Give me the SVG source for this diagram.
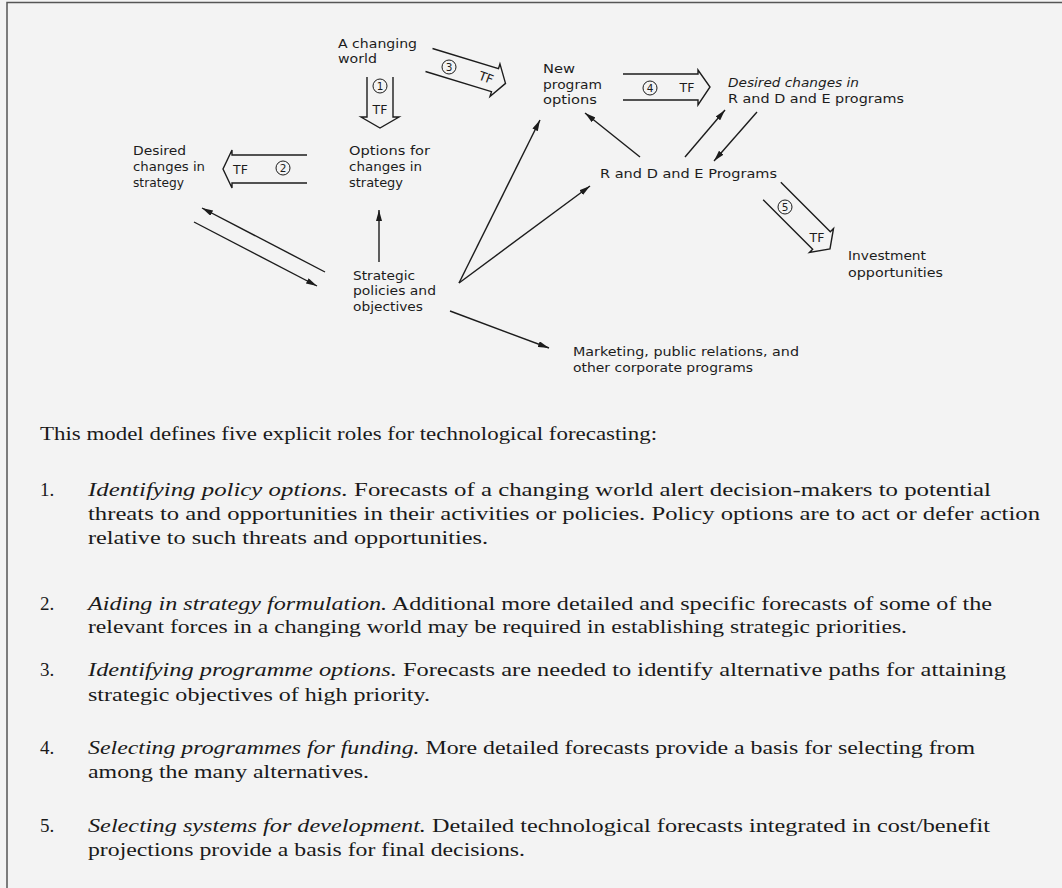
<svg xmlns="http://www.w3.org/2000/svg" width="1062" height="888" viewBox="0 0 1062 888">
<defs>
<style>
.lbl{font-family:"DejaVu Sans","Liberation Sans",sans-serif;font-size:11.5px;fill:#1c1c1c}
.it{font-style:italic}
.tf{font-family:"DejaVu Sans","Liberation Sans",sans-serif;font-size:12.5px;fill:#1c1c1c}
.num{font-family:"DejaVu Sans","Liberation Sans",sans-serif;font-size:10.5px;fill:#1c1c1c;text-anchor:middle}
.circ{fill:none;stroke:#1c1c1c;stroke-width:1}
.hollow{fill:none;stroke:#1c1c1c;stroke-width:1.4;stroke-linejoin:miter}
.thin{fill:none;stroke:#1c1c1c;stroke-width:1.4;marker-end:url(#ah)}
.body{font-family:"Liberation Serif","Times New Roman",serif;font-size:19px;fill:#1a1a1a}
.frame{fill:none;stroke:#555;stroke-width:1.5}
</style>
<marker id="ah" markerWidth="11" markerHeight="6" refX="11" refY="3" orient="auto" markerUnits="userSpaceOnUse">
<path d="M0,0 L11,3 L0,6 z" fill="#1c1c1c"/>
</marker>
</defs>
<rect x="0" y="0" width="1062" height="888" fill="#f3f3f3"/>
<path class="frame" d="M7,888 L7,2.5 L1062,2.5"/>

<g id="connectors">
<line class="thin" x1="379" y1="262" x2="379" y2="210"/>
<line class="thin" x1="325" y1="272" x2="202" y2="208"/>
<line class="thin" x1="194" y1="222" x2="317" y2="286"/>
<line class="thin" x1="459" y1="283" x2="540" y2="120"/>
<line class="thin" x1="459" y1="283" x2="590" y2="186"/>
<line class="thin" x1="450" y1="311" x2="549" y2="348"/>
<line class="thin" x1="640" y1="157" x2="585" y2="113"/>
<line class="thin" x1="685" y1="157" x2="725" y2="110"/>
<line class="thin" x1="757" y1="112" x2="714" y2="161"/>
</g>

<g id="tf1">
<path class="hollow" transform="translate(380,77) rotate(90)" d="M0,-13 L40,-13 L40,-19 L51,0 L40,19 L40,13 L0,13"/>
<circle class="circ" cx="380" cy="86" r="7"/>
<text class="num" x="380" y="90">1</text>
<text class="tf" x="380" y="114" text-anchor="middle">TF</text>
</g>
<g id="tf2">
<path class="hollow" transform="translate(307,169) rotate(180)" d="M0,-14 L75,-14 L75,-19 L84,0 L75,19 L75,14 L0,14"/>
<circle class="circ" cx="283" cy="168" r="7"/>
<text class="num" x="283" y="172">2</text>
<text class="tf" x="233" y="174">TF</text>
</g>
<g id="tf3">
<path class="hollow" transform="translate(429,60) rotate(17)" d="M0,-12 L69,-12 L69,-17 L80,0 L69,17 L69,12 L0,12"/>
<circle class="circ" cx="449" cy="67" r="7"/>
<text class="num" x="449" y="71">3</text>
<text class="tf" transform="translate(486,78) rotate(20)" x="0" y="4" text-anchor="middle">TF</text>
</g>
<g id="tf4">
<path class="hollow" transform="translate(623,87) rotate(0)" d="M0,-13 L75,-13 L75,-17 L87,0 L75,18 L75,13 L0,13"/>
<circle class="circ" cx="650" cy="88" r="7"/>
<text class="num" x="650" y="92">4</text>
<text class="tf" x="687" y="92" text-anchor="middle">TF</text>
</g>
<g id="tf5">
<path class="hollow" transform="translate(772,191) rotate(45)" d="M0,-12.5 L70,-12.5 L70,-17 L82,0 L70,17 L70,12.5 L0,12.5"/>
<circle class="circ" cx="785" cy="207" r="7"/>
<text class="num" x="785" y="211">5</text>
<text class="tf" x="817" y="242" text-anchor="middle">TF</text>
</g>

<g id="changing-world">
<text class="lbl" x="338" y="48" textLength="79" lengthAdjust="spacingAndGlyphs">A changing</text>
<text class="lbl" x="338" y="63" textLength="39" lengthAdjust="spacingAndGlyphs">world</text>
</g>
<g id="desired-strategy">
<text class="lbl" x="133" y="155" textLength="53" lengthAdjust="spacingAndGlyphs">Desired</text>
<text class="lbl" x="133" y="171" textLength="72" lengthAdjust="spacingAndGlyphs">changes in</text>
<text class="lbl" x="133" y="187" textLength="51" lengthAdjust="spacingAndGlyphs">strategy</text>
</g>
<g id="options-strategy">
<text class="lbl" x="349" y="155" textLength="81" lengthAdjust="spacingAndGlyphs">Options for</text>
<text class="lbl" x="349" y="171" textLength="73" lengthAdjust="spacingAndGlyphs">changes in</text>
<text class="lbl" x="349" y="187" textLength="54" lengthAdjust="spacingAndGlyphs">strategy</text>
</g>
<g id="strategic">
<text class="lbl" x="353" y="280" textLength="62" lengthAdjust="spacingAndGlyphs">Strategic</text>
<text class="lbl" x="353" y="295" textLength="83" lengthAdjust="spacingAndGlyphs">policies and</text>
<text class="lbl" x="353" y="311" textLength="70" lengthAdjust="spacingAndGlyphs">objectives</text>
</g>
<g id="marketing">
<text class="lbl" x="573" y="356" textLength="226" lengthAdjust="spacingAndGlyphs">Marketing, public relations, and</text>
<text class="lbl" x="573" y="372" textLength="180" lengthAdjust="spacingAndGlyphs">other corporate programs</text>
</g>
<g id="new-program">
<text class="lbl" x="543" y="73" textLength="32" lengthAdjust="spacingAndGlyphs">New</text>
<text class="lbl" x="543" y="89" textLength="59" lengthAdjust="spacingAndGlyphs">program</text>
<text class="lbl" x="543" y="104" textLength="54" lengthAdjust="spacingAndGlyphs">options</text>
</g>
<g id="desired-rde">
<text class="lbl it" x="728" y="87" textLength="131" lengthAdjust="spacingAndGlyphs">Desired changes in</text>
<text class="lbl" x="728" y="103" textLength="176" lengthAdjust="spacingAndGlyphs">R and D and E programs</text>
</g>
<g id="rde">
<text class="lbl" x="600" y="178" textLength="177" lengthAdjust="spacingAndGlyphs">R and D and E Programs</text>
</g>
<g id="investment">
<text class="lbl" x="848" y="260" textLength="78" lengthAdjust="spacingAndGlyphs">Investment</text>
<text class="lbl" x="848" y="277" textLength="95" lengthAdjust="spacingAndGlyphs">opportunities</text>
</g>

<g id="body-text">
<text class="body" x="40" y="440" textLength="617" lengthAdjust="spacingAndGlyphs">This model defines five explicit roles for technological forecasting:</text>
<text class="body" x="40" y="496">1.</text>
<text class="body" x="88" y="496" textLength="903" lengthAdjust="spacingAndGlyphs"><tspan font-style="italic">Identifying policy options.</tspan> Forecasts of a changing world alert decision-makers to potential</text>
<text class="body" x="88" y="520" textLength="952" lengthAdjust="spacingAndGlyphs">threats to and opportunities in their activities or policies. Policy options are to act or defer action</text>
<text class="body" x="88" y="544" textLength="400" lengthAdjust="spacingAndGlyphs">relative to such threats and opportunities.</text>
<text class="body" x="40" y="610">2.</text>
<text class="body" x="88" y="610" textLength="904" lengthAdjust="spacingAndGlyphs"><tspan font-style="italic">Aiding in strategy formulation.</tspan> Additional more detailed and specific forecasts of some of the</text>
<text class="body" x="88" y="633" textLength="819" lengthAdjust="spacingAndGlyphs">relevant forces in a changing world may be required in establishing strategic priorities.</text>
<text class="body" x="40" y="676">3.</text>
<text class="body" x="88" y="676" textLength="918" lengthAdjust="spacingAndGlyphs"><tspan font-style="italic">Identifying programme options.</tspan> Forecasts are needed to identify alternative paths for attaining</text>
<text class="body" x="88" y="701" textLength="342" lengthAdjust="spacingAndGlyphs">strategic objectives of high priority.</text>
<text class="body" x="40" y="754">4.</text>
<text class="body" x="88" y="754" textLength="887" lengthAdjust="spacingAndGlyphs"><tspan font-style="italic">Selecting programmes for funding.</tspan> More detailed forecasts provide a basis for selecting from</text>
<text class="body" x="88" y="778" textLength="281" lengthAdjust="spacingAndGlyphs">among the many alternatives.</text>
<text class="body" x="40" y="832">5.</text>
<text class="body" x="88" y="832" textLength="902" lengthAdjust="spacingAndGlyphs"><tspan font-style="italic">Selecting systems for development.</tspan> Detailed technological forecasts integrated in cost/benefit</text>
<text class="body" x="88" y="856" textLength="437" lengthAdjust="spacingAndGlyphs">projections provide a basis for final decisions.</text>
</g>
</svg>
